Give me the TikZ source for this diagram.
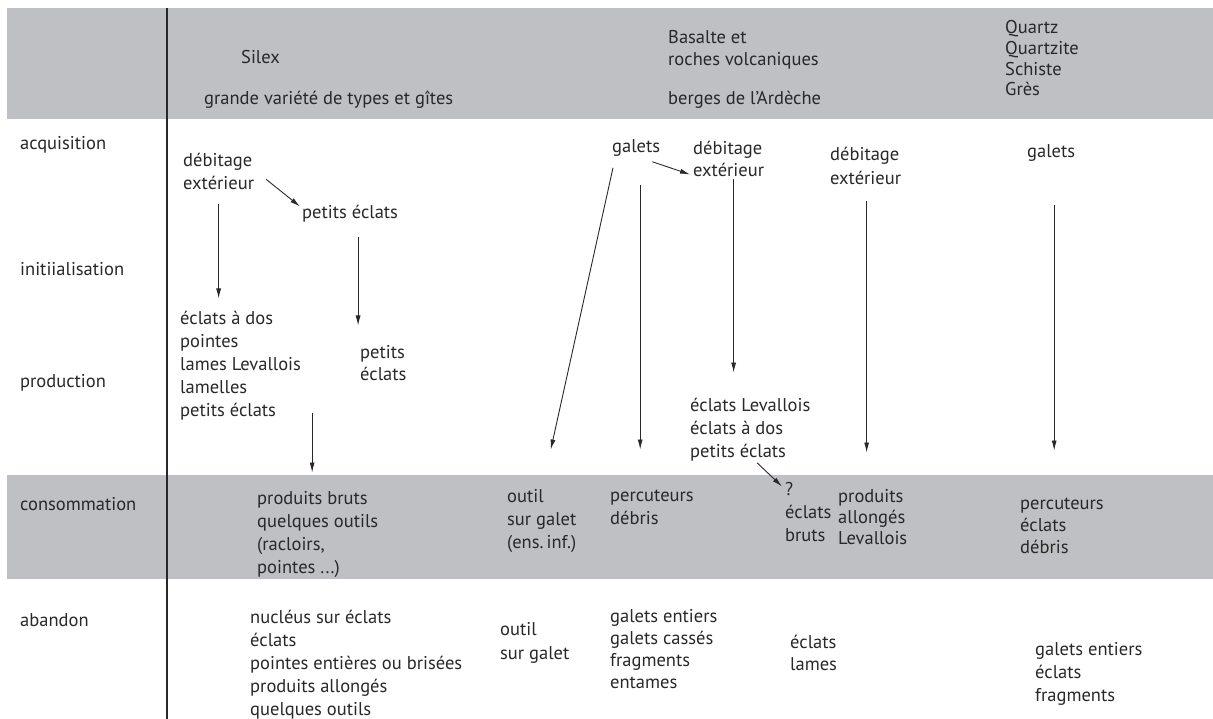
\documentclass[tikz,border=0pt]{standalone}
\usepackage{fontspec}
\setmainfont{PT Sans}
\usetikzlibrary{arrows.meta}

\definecolor{bandgrey}{RGB}{190,192,195}
\definecolor{ink}{RGB}{40,40,40}

\tikzset{
	txt/.style={anchor=north west, inner sep=0pt, align=left, text=ink,
		font=\fontsize{18.5}{23}\selectfont},
	rowlbl/.style={txt, anchor=west},
	arr/.style={-{Latex[length=10pt,width=5pt]}, draw=ink, line width=0.9pt},
}

\begin{document}
\begin{tikzpicture}[x=1pt, y=-1pt]

	\useasboundingbox (0,0) rectangle (1213,719);

	% grey bands
	\fill[bandgrey] (7,8) rectangle (1213,119);
	\fill[bandgrey] (7,475) rectangle (1213,579);
	\draw[ink, line width=1.5pt] (167,8) -- (167,719);

	% header
	\node[txt] (silex) at (241,50.5) {Silex};
	\node[txt] (gites) at (204,90.5) {grande variété de types et gîtes};
	\node[txt, font=\fontsize{18.5}{22}\selectfont] (basalte) at (668,30.5) {Basalte et\\roches volcaniques};
	\node[txt] (ardeche) at (668,90.5) {berges de l'Ardèche};
	\node[txt, font=\fontsize{18.5}{20.7}\selectfont] (quartz) at (1005,20.5) {Quartz\\Quartzite\\Schiste\\Grès};

	% rows
	\node[rowlbl] (acq) at (20,145) {acquisition};
	\node[rowlbl] (ini) at (20,269) {initiialisation};
	\node[rowlbl] (pro) at (20,383) {production};
	\node[rowlbl] (con) at (20,504) {consommation};
	\node[rowlbl] (aba) at (20,620) {abandon};

	% silex
	\node[txt] (deb1) at (183,152.5) {débitage\\extérieur};
	\node[txt] (pe1) at (302,204.5) {petits éclats};
	\node[txt] (prod1) at (180,310.5) {éclats à dos\\pointes\\lames Levallois\\lamelles\\petits éclats};
	\node[txt, font=\fontsize{18.5}{22}\selectfont] (pe2) at (360,345.5) {petits\\éclats};
	\node[txt] (cons1) at (257,491.5) {produits bruts\\quelques outils\\(racloirs,\\pointes ...)};
	\node[txt] (ab1) at (250,609.5) {nucléus sur éclats\\éclats\\pointes entières ou brisées\\produits allongés\\quelques outils};

	% basalte
	\node[txt] (gal1) at (612,139.5) {galets};
	\node[txt, font=\fontsize{18.5}{22}\selectfont] (deb2) at (693,140.5) {débitage\\extérieur};
	\node[txt, font=\fontsize{18.5}{24}\selectfont] (deb3) at (830,146.5) {débitage\\extérieur};
	\node[txt] (ecl) at (690,397.5) {éclats Levallois\\éclats à dos\\petits éclats};
	\node[txt] (cons2) at (507,489.5) {outil\\sur galet\\(ens.\,inf.)};
	\node[txt] (cons3) at (610,489.5) {percuteurs\\débris};
	\node[txt] (cons4) at (785,482.5) {?\\éclats\\bruts};
	\node[txt, font=\fontsize{18.5}{21}\selectfont] (cons5) at (838,489.5) {produits\\allongés\\Levallois};
	\node[txt, font=\fontsize{18.5}{24}\selectfont] (ab2) at (500,622.5) {outil\\sur galet};
	\node[txt, font=\fontsize{18.5}{22}\selectfont] (ab3) at (610,609.5) {galets entiers\\galets cassés\\fragments\\entames};
	\node[txt, font=\fontsize{18.5}{22}\selectfont] (ab4) at (790,634.5) {éclats\\lames};

	% quartz
	\node[txt] (gal2) at (1027,144.5) {galets};
	\node[txt, font=\fontsize{18.5}{22}\selectfont] (cons6) at (1020,497.5) {percuteurs\\éclats\\débris};
	\node[txt] (ab5) at (1035,642.5) {galets entiers\\éclats\\fragments};

	% arrows
	\draw[arr] ([shift={(12,-10)}]deb1.south east) -- ([shift={(-2,2)}]pe1.north west);
	\draw[arr] ([shift={(0,15)}]deb1.south) -- ([shift={(0,-12)}]deb1.south |- prod1.north);
	\draw[arr] ([shift={(8,15)}]pe1.south) -- ([shift={(8,-20)}]pe1.south |- pe2.north);
	\draw[arr] ([shift={(11,-7)}]prod1.south east) -- ([shift={(11,-19)}]prod1.south east |- cons1.north);
	\draw[arr] ([shift={(1,11)}]gal1.south west) -- ([shift={(9,-40)}]cons2.north);
	\draw[arr] ([shift={(4,28)}]gal1.south) -- ([shift={(4,-40)}]gal1.south |- cons3.north);
	\draw[arr] ([shift={(-8,5)}]gal1.south east) -- ([shift={(-3,16)}]deb2.west);
	\draw[arr] ([shift={(5,3)}]deb2.south) -- ([shift={(5,-25)}]deb2.south |- ecl.north);
	\draw[arr] ([shift={(1,17)}]deb3.south) -- ([shift={(1,-37)}]deb3.south |- cons5.north);
	\draw[arr] ([shift={(3,43)}]gal2.south) -- ([shift={(3,-47)}]gal2.south |- cons6.north);
	\draw[arr] ([shift={(7,2)}]ecl.south) -- ([shift={(-3,4)}]cons4.north west);

\end{tikzpicture}
\end{document}
